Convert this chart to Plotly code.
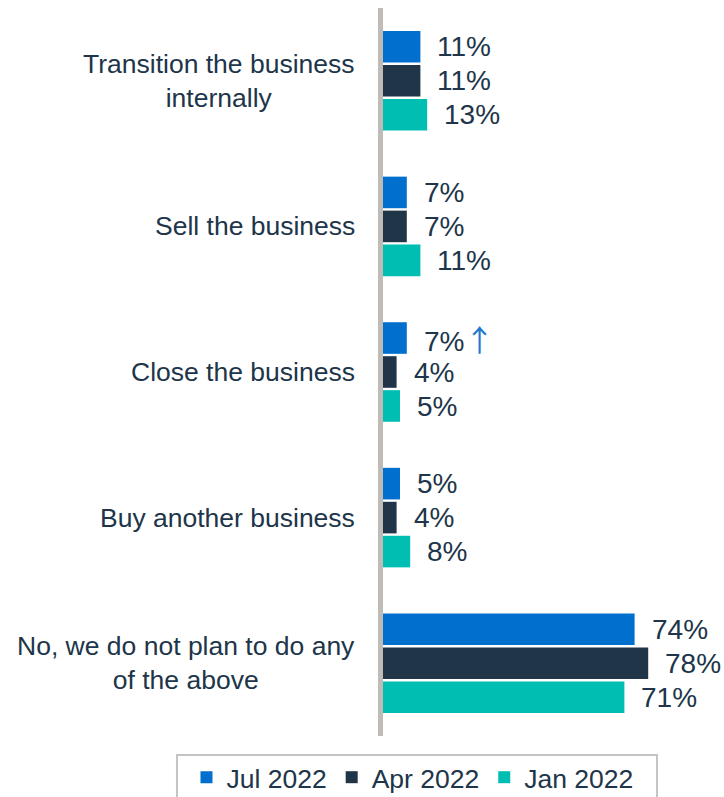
import plotly.graph_objects as go

# Survey options (top to bottom) and the share of respondents per wave
categories = [
    "Transition the business<br>internally",
    "Sell the business",
    "Close the business",
    "Buy another business",
    "No, we do not plan to do any<br>of the above",
]
series_names = ["Jul 2022", "Apr 2022", "Jan 2022"]
jul_2022 = [11, 7, 7, 5, 74]
apr_2022 = [11, 7, 4, 4, 78]
jan_2022 = [13, 11, 5, 8, 71]
# wave-over-wave significant increase markers (Jul 2022 only)
jul_increase = [False, False, True, False, False]

series_values = [jul_2022, apr_2022, jan_2022]
colors = ["#006FCD", "#213549", "#00BFB2"]
text_color = "#203549"
font_family = "Liberation Sans, Arial, sans-serif"

fig = go.Figure()
for name, vals, col in zip(series_names, series_values, colors):
    fig.add_trace(go.Bar(
        y=categories, x=vals, name=name, orientation="h",
        marker=dict(color=col, line=dict(width=0)),
        hoverinfo="x+y",
    ))

# value labels beside each bar
shifts = [34, 0, -34]
for si, (vals, ys) in enumerate(zip(series_values, shifts)):
    for ci, v in enumerate(vals):
        txt = f"{v}%"
        if si == 0 and jul_increase[ci]:
            txt += ("<span style='color:#1F7BD0;font-family:\"Noto Sans CJK SC\";"
                    "font-size:30px'>↑</span>")
        fig.add_annotation(
            x=v, y=categories[ci], text=txt, showarrow=False,
            xanchor="left", yanchor="middle", xshift=15, yshift=ys,
            font=dict(size=28, color=text_color, family=font_family),
        )

# category labels, centred line by line
for c in categories:
    fig.add_annotation(
        x=0, xref="paper", y=c, text=c, showarrow=False,
        xanchor="right", yanchor="middle", xshift=-26, align="center",
        font=dict(size=26.5, color=text_color, family=font_family),
    )

# frame around the legend
fig.add_shape(
    type="rect", xref="paper", yref="paper",
    x0=-0.606, x1=0.806, y0=-0.0261, y1=-0.12,
    line=dict(color="#C4C4C4", width=2), fillcolor="rgba(0,0,0,0)",
    layer="above",
)

fig.update_layout(
    width=724, height=797,
    margin=dict(l=383, r=1, t=8, b=61, autoexpand=False),
    paper_bgcolor="white", plot_bgcolor="white",
    barmode="group", bargap=0.30, bargroupgap=0.07,
    font=dict(family=font_family, color=text_color),
    xaxis=dict(range=[0, 100], visible=False, fixedrange=True),
    yaxis=dict(
        autorange="reversed", showticklabels=False, ticks="",
        showgrid=False, zeroline=False,
        showline=True, linecolor="#BFBCB8", linewidth=5,
    ),
    legend=dict(
        orientation="h",
        x=-0.578, xanchor="left", y=-0.024, yanchor="top",
        font=dict(size=26.5, color=text_color, family=font_family),
        borderwidth=0, bgcolor="rgba(0,0,0,0)",
        itemclick=False, itemdoubleclick=False,
    ),
    showlegend=True,
)

fig.write_html("out.html")
